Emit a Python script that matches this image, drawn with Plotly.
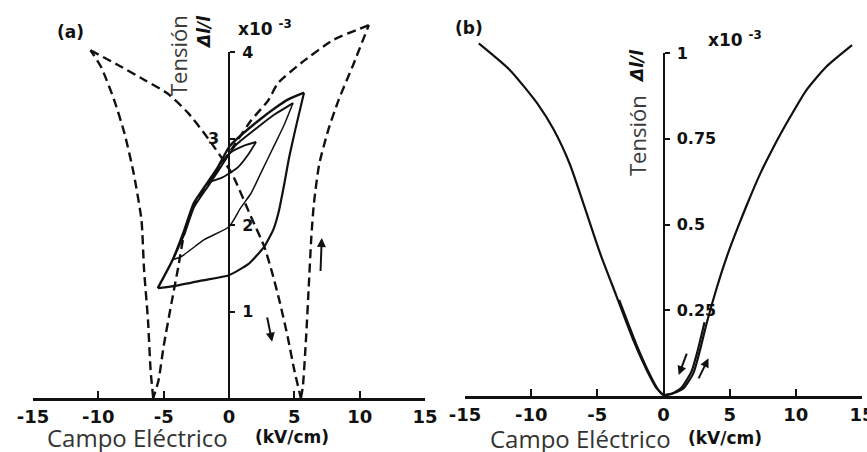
import plotly.graph_objects as go

# ---------------- Panel (a) data ----------------
# dashed butterfly, left lobe: outer branch (root -> tip) and inner branch (tip -> root)
a_dLo_x = [-5.8, -6.0, -6.2, -6.5, -6.7, -7.3, -8.0, -8.8, -9.8, -10.6]
a_dLo_y = [0.0, 0.32, 0.9, 1.48, 2.06, 2.6, 3.06, 3.45, 3.83, 4.02]
a_dLi_x = [-10.6, -8.5, -6.5, -4.7, -3.1, -1.6, 0.2, 1.7, 2.7, 3.3, 3.9, 4.5, 5.0, 5.5]
a_dLi_y = [4.02, 3.85, 3.68, 3.52, 3.29, 3.0, 2.6, 2.09, 1.75, 1.45, 1.1, 0.7, 0.32, 0.0]
# dashed butterfly, right lobe
a_dRo_x = [5.5, 5.65, 5.9, 6.1, 6.3, 6.5, 6.9, 7.6, 8.4, 9.5, 10.7]
a_dRo_y = [0.0, 0.13, 0.7, 1.28, 1.86, 2.25, 2.7, 3.1, 3.45, 3.85, 4.31]
a_dRi_x = [10.7, 8.0, 5.5, 3.75, 3.0, 1.7, 0.3, -1.4, -2.7, -3.4, -3.9, -4.4, -5.0, -5.4, -5.8]
a_dRi_y = [4.31, 4.14, 3.87, 3.64, 3.44, 3.21, 2.9, 2.52, 2.22, 1.92, 1.5, 1.1, 0.6, 0.2, 0.0]
# large minor loop: rising (lower) and falling (upper) branches
a_l1r_x = [-5.45, -4.0, -2.0, 0.0, 1.5, 2.7, 3.4, 3.8, 4.2, 4.6, 5.1, 5.74]
a_l1r_y = [1.27, 1.3, 1.36, 1.42, 1.55, 1.75, 1.95, 2.15, 2.45, 2.78, 3.12, 3.53]
a_l1f_x = [5.74, 4.5, 3.5, 2.2, 0.5, 0.0, -0.85, -1.6, -2.7, -3.4, -4.3, -5.45]
a_l1f_y = [3.53, 3.45, 3.35, 3.2, 2.98, 2.9, 2.67, 2.5, 2.25, 1.95, 1.6, 1.27]
# middle minor loop
a_l2r_x = [-4.3, -3.7, -1.9, 0.0, 0.9, 1.7, 2.5, 3.4, 4.2, 4.9]
a_l2r_y = [1.6, 1.63, 1.83, 1.98, 2.2, 2.37, 2.62, 2.9, 3.15, 3.41]
a_l2f_x = [4.9, 3.5, 2.2, 0.5, -0.85, -1.6, -2.7, -3.4, -4.3]
a_l2f_y = [3.41, 3.28, 3.13, 2.92, 2.62, 2.45, 2.2, 1.9, 1.6]
# small minor loop
a_l3r_x = [-1.4, -0.5, 0.7, 1.5, 2.07]
a_l3r_y = [2.5, 2.55, 2.67, 2.82, 2.96]
a_l3f_x = [2.07, 1.2, 0.15, -0.7, -1.4]
a_l3f_y = [2.96, 2.92, 2.84, 2.7, 2.5]

a_ticks = [1, 2, 3, 4]
a_ticktext = ["1", "2", " ", "4"]

# ---------------- Panel (b) data ----------------
b_left_x = [-13.96, -11.6, -9.54, -8.29, -7.07, -6.0, -4.8, -3.54, -2.28, -1.27, -0.51, 0.0]
b_left_y = [1.028, 0.95, 0.853, 0.776, 0.675, 0.555, 0.417, 0.29, 0.163, 0.076, 0.022, 0.003]
b_right_x = [0.0, 0.74, 1.5, 2.25, 2.76, 3.26, 4.02, 4.8, 5.6, 6.35, 7.32, 8.33, 9.58, 10.8, 12.3, 14.25]
b_right_y = [0.003, 0.008, 0.022, 0.066, 0.134, 0.212, 0.315, 0.408, 0.49, 0.562, 0.649, 0.727, 0.814, 0.892, 0.96, 1.023]
# return sweep (hysteresis, thickens the curve near the origin)
b_ret_x = [-3.35, -2.1, -1.1, -0.4, 0.0, 0.6, 1.35, 2.1, 2.6, 3.1]
b_ret_y = [0.28, 0.155, 0.068, 0.018, 0.003, 0.006, 0.024, 0.07, 0.135, 0.215]

b_ticks = [0.25, 0.5, 0.75, 1]
b_ticktext = ["0.25", "0.5", "0.75", "1"]

x_ticks = [-15, -10, -5, 0, 5, 10, 15]
x_ticktext = ["-15", "-10", "-5", "0", "5", "10", "15"]

W, H = 867, 452
def px(x):
    return x / W
def py(y):
    return 1 - y / H

BOLD = "DejaVu Sans"
LIGHT = "Open Sans"
ink = "#111111"

fig = go.Figure()

def line(xs, ys, xa, ya, w, dash=None, smooth=0.6):
    fig.add_trace(go.Scatter(x=xs, y=ys, mode="lines", xaxis=xa, yaxis=ya,
                             line=dict(color=ink, width=w, dash=dash, shape="spline", smoothing=smooth),
                             hoverinfo="skip", showlegend=False))

dash = "9px,5px"
for xs, ys in [(a_dLo_x, a_dLo_y), (a_dLi_x, a_dLi_y), (a_dRo_x, a_dRo_y), (a_dRi_x, a_dRi_y)]:
    line(xs, ys, "x", "y", 2.4, dash)
for xs, ys, w in [(a_l1r_x, a_l1r_y, 2.2), (a_l1f_x, a_l1f_y, 2.4),
                  (a_l2r_x, a_l2r_y, 1.5), (a_l2f_x, a_l2f_y, 2.0),
                  (a_l3r_x, a_l3r_y, 1.8), (a_l3f_x, a_l3f_y, 1.8)]:
    line(xs, ys, "x", "y", w, None, 0.5)
for xs, ys in [(b_left_x, b_left_y), (b_right_x, b_right_y), (b_ret_x, b_ret_y)]:
    line(xs, ys, "x2", "y2", 2.2, None, 0.6)

# invisible traces to create the centred axes
fig.add_trace(go.Scatter(x=[0], y=[0], mode="markers", xaxis="x", yaxis="y3",
                         marker=dict(opacity=0), hoverinfo="skip", showlegend=False))
fig.add_trace(go.Scatter(x=[0], y=[0], mode="markers", xaxis="x2", yaxis="y4",
                         marker=dict(opacity=0), hoverinfo="skip", showlegend=False))

xa_common = dict(range=[-15, 15], showgrid=False, zeroline=False, showline=True,
                 linecolor=ink, linewidth=2.5, ticks="inside", ticklen=7, tickwidth=2,
                 tickcolor=ink, tickvals=x_ticks, ticktext=x_ticktext,
                 tickfont=dict(family=BOLD, size=18, color=ink, weight="bold"),
                 ticklabelstandoff=1, ticklabeloverflow="allow",
                 fixedrange=True, automargin=False)
ya_hidden = dict(showgrid=False, zeroline=False, showline=False, showticklabels=False,
                 ticks="", fixedrange=True, automargin=False)
ya_axis = dict(showgrid=False, zeroline=False, showline=True, linecolor=ink, linewidth=2,
               ticks="outside", ticklen=5, tickwidth=2, tickcolor=ink, side="right",
               anchor="free", tickfont=dict(family=BOLD, size=16, color=ink, weight="bold"),
               ticklabelstandoff=4, fixedrange=True, automargin=False)

xa_dom = [33 / W, 425 / W]
xb_dom = [465 / W, 862 / W]
ya0 = (H - 398) / H
ya4 = (H - 52) / H
ya_unit = (ya4 - ya0) / 4
yb0 = (H - 396) / H
yb1 = (H - 53) / H
yb_unit = yb1 - yb0

fig.update_layout(
    width=W, height=H, margin=dict(l=0, r=0, t=0, b=0, pad=0, autoexpand=False),
    paper_bgcolor="white", plot_bgcolor="rgba(0,0,0,0)", showlegend=False,
    xaxis=dict(domain=xa_dom, anchor="y", **xa_common),
    xaxis2=dict(domain=xb_dom, anchor="y2", **xa_common),
    yaxis=dict(domain=[ya0, ya0 + 4.45 * ya_unit], range=[0, 4.45], anchor="x", **ya_hidden),
    yaxis2=dict(domain=[yb0, yb0 + 1.12 * yb_unit], range=[0, 1.12], anchor="x2", **ya_hidden),
    yaxis3=dict(domain=[ya0, ya4], range=[0, 4], position=(xa_dom[0] + xa_dom[1]) / 2,
                tickvals=a_ticks, ticktext=a_ticktext, **ya_axis),
    yaxis4=dict(domain=[yb0, yb1], range=[0, 1], position=(xb_dom[0] + xb_dom[1]) / 2,
                tickvals=b_ticks, ticktext=b_ticktext, **ya_axis),
)

ann = []
def txt(x, y, text, size, family=BOLD, xanchor="center", yanchor="middle", angle=0,
        color=ink, weight="bold"):
    ann.append(dict(x=x, y=y, xref="paper", yref="paper", text=text, showarrow=False,
                    xanchor=xanchor, yanchor=yanchor, textangle=angle,
                    font=dict(family=family, size=size, color=color, weight=weight)))

txt(px(70), py(32), "(a)", 17)
txt(px(469), py(28), "(b)", 17)
txt(px(236), py(28), "x10 <sup>-3</sup>", 17, xanchor="left")
txt(px(706), py(39), "x10 <sup>-3</sup>", 17, xanchor="left")
txt(px(178), py(56), "Tensión", 22, family=LIGHT, angle=-90, color="#3a3a3a", weight="normal")
txt(px(637), py(136), "Tensión", 22, family=LIGHT, angle=-90, color="#3a3a3a", weight="normal")
txt(px(204), py(32), "<i>Δl/l</i>", 17, angle=-90)
txt(px(637), py(66), "<i>Δl/l</i>", 17, angle=-90)
txt(px(45), py(437), "Campo Eléctrico", 24, family=LIGHT, xanchor="left", color="#333333", weight="normal")
txt(px(253), py(437), "(kV/cm)", 17, xanchor="left")
txt(px(488), py(438), "Campo Eléctrico", 24, family=LIGHT, xanchor="left", color="#333333", weight="normal")
txt(px(686), py(438), "(kV/cm)", 17, xanchor="left")

# tick label "3" printed left of the axis in panel (a)
ann.append(dict(x=-1.2, y=3, xref="x", yref="y", text="3", showarrow=False,
                xanchor="center", yanchor="middle",
                font=dict(family=BOLD, size=16, color=ink, weight="bold")))

# direction arrows
def arrow(xr, yr, x0, y0, x1, y1):
    ann.append(dict(x=x1, y=y1, ax=x0, ay=y0, xref=xr, yref=yr, axref=xr, ayref=yr,
                    text="", showarrow=True, arrowhead=2, arrowsize=0.9, arrowwidth=2,
                    arrowcolor=ink))

arrow("x", "y", 7.0, 1.45, 7.1, 1.85)
arrow("x", "y", 2.9, 0.95, 3.3, 0.65)
arrow("x2", "y2", 1.8, 0.128, 1.15, 0.061)
arrow("x2", "y2", 2.6, 0.047, 3.4, 0.11)

fig.update_layout(annotations=ann)
fig.write_html("out.html", config={"displayModeBar": False},
               post_script="document.body.style.margin='0';document.body.style.padding='0';"
                           "document.documentElement.style.overflow='hidden';")
